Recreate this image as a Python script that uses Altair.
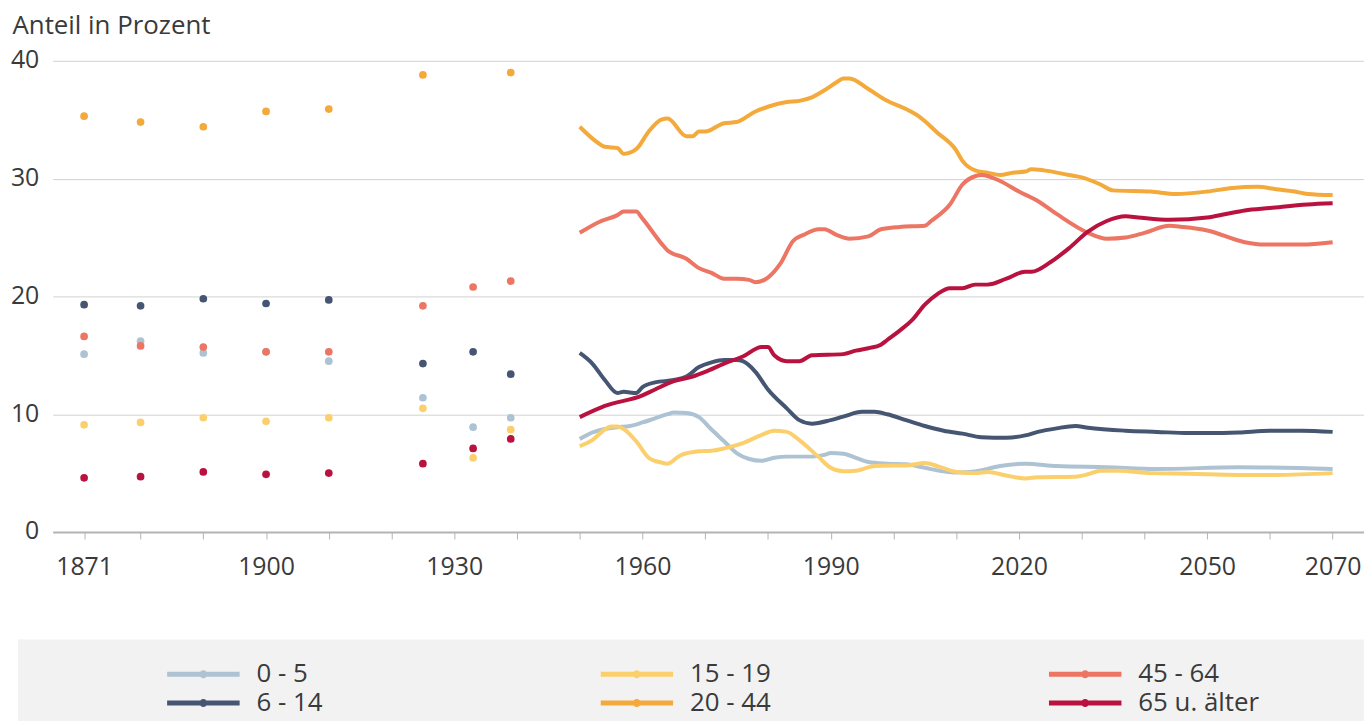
import altair as alt
import pandas as pd

# ---------------- data ----------------
groups = ["0 - 5", "6 - 14", "15 - 19", "20 - 44", "45 - 64", "65 u. älter"]
colors = ["#adc3d3", "#465672", "#fbd06c", "#f4a93b", "#ec7563", "#b9123f"]

# census points (historical)
census_years = [1871, 1880, 1890, 1900, 1910, 1925, 1933, 1939]
census_0_5 = [15.1, 16.2, 15.2, 15.3, 14.5, 11.4, 8.9, 9.7]
census_6_14 = [19.3, 19.2, 19.8, 19.4, 19.7, 14.3, 15.3, 13.4]
census_15_19 = [9.1, 9.3, 9.7, 9.4, 9.7, 10.5, 6.3, 8.7]
census_20_44 = [35.3, 34.8, 34.4, 35.7, 35.9, 38.8, None, 39.0]
census_45_64 = [16.6, 15.8, 15.7, 15.3, 15.3, 19.2, 20.8, 21.3]
census_65 = [4.6, 4.7, 5.1, 4.9, 5.0, 5.8, 7.1, 7.9]

# annual series 1950-2070
yrs_0_5 = [1950, 1952, 1954, 1956, 1958, 1960, 1962, 1964, 1965, 1967, 1969, 1971, 1973,
           1975, 1977, 1979, 1981, 1983, 1987, 1989, 1990, 1992, 1994, 1996, 1999, 2002,
           2005, 2008, 2010, 2013, 2017, 2021, 2026, 2034, 2042, 2055, 2070]
val_0_5 = [7.9, 8.45, 8.75, 8.9, 9.0, 9.3, 9.65, 10.0, 10.15, 10.1, 9.75, 8.7, 7.7,
           6.7, 6.2, 6.05, 6.3, 6.4, 6.4, 6.55, 6.7, 6.65, 6.3, 5.95, 5.8, 5.75,
           5.45, 5.15, 5.05, 5.15, 5.6, 5.8, 5.6, 5.5, 5.35, 5.5, 5.35]

yrs_6_14 = [1950, 1952, 1954, 1956, 1957, 1959, 1960, 1962, 1965, 1967, 1969, 1971, 1973,
            1975, 1976, 1978, 1980, 1983, 1985, 1987, 1990, 1992, 1995, 1997, 1999, 2002,
            2005, 2008, 2011, 2014, 2018, 2021, 2023, 2026, 2029, 2031, 2037, 2042, 2047,
            2050, 2055, 2060, 2065, 2070]
val_6_14 = [15.2, 14.3, 12.9, 11.8, 11.9, 11.8, 12.3, 12.7, 12.9, 13.2, 14.0, 14.4, 14.6,
            14.6, 14.5, 13.6, 12.1, 10.5, 9.5, 9.2, 9.5, 9.8, 10.2, 10.2, 10.0, 9.5,
            9.0, 8.6, 8.35, 8.05, 8.0, 8.2, 8.5, 8.8, 9.0, 8.85, 8.6, 8.5, 8.4,
            8.4, 8.45, 8.6, 8.6, 8.5]

yrs_15_19 = [1950, 1952, 1954, 1955, 1956, 1957, 1959, 1961, 1963, 1964, 1966, 1969, 1971,
             1973, 1976, 1979, 1981, 1983, 1985, 1988, 1990, 1992, 1994, 1997, 2000, 2002,
             2005, 2007, 2010, 2013, 2015, 2018, 2021, 2023, 2029, 2031, 2033, 2036, 2041,
             2047, 2055, 2061, 2070]
val_15_19 = [7.3, 7.8, 8.7, 8.95, 8.95, 8.75, 7.7, 6.3, 5.9, 5.8, 6.5, 6.85, 6.9,
             7.1, 7.55, 8.25, 8.6, 8.5, 7.8, 6.4, 5.45, 5.15, 5.2, 5.6, 5.65, 5.65,
             5.85, 5.6, 5.1, 5.0, 5.1, 4.8, 4.55, 4.65, 4.7, 4.9, 5.2, 5.2, 5.0,
             4.95, 4.85, 4.85, 5.0]

yrs_20_44 = [1950, 1953, 1954, 1956, 1957, 1959, 1961, 1963, 1964, 1967, 1968, 1969, 1970,
             1973, 1975, 1978, 1980, 1983, 1985, 1987, 1989, 1991, 1992, 1993, 1996, 1999,
             2002, 2004, 2007, 2010, 2011, 2013, 2015, 2017, 2019, 2021, 2022, 2024, 2028,
             2030, 2033, 2035, 2041, 2045, 2050, 2054, 2058, 2061, 2064, 2066, 2070]
val_20_44 = [34.4, 33.0, 32.7, 32.6, 32.1, 32.5, 34.0, 35.0, 35.1, 33.6, 33.6, 34.0, 34.0,
             34.7, 34.8, 35.7, 36.1, 36.5, 36.6, 36.9, 37.5, 38.2, 38.5, 38.5, 37.6, 36.6,
             35.9, 35.3, 33.9, 32.4, 31.5, 30.7, 30.5, 30.3, 30.5, 30.6, 30.8, 30.7, 30.3,
             30.1, 29.5, 29.0, 28.9, 28.7, 28.9, 29.2, 29.3, 29.1, 28.9, 28.7, 28.6]

yrs_45_64 = [1950, 1953, 1956, 1957, 1959, 1960, 1963, 1964, 1967, 1969, 1971, 1973, 1975,
             1977, 1978, 1980, 1982, 1984, 1986, 1988, 1989, 1991, 1993, 1996, 1998, 2001,
             2005, 2006, 2009, 2011, 2013, 2014, 2017, 2020, 2023, 2026, 2031, 2034, 2037,
             2040, 2044, 2046, 2050, 2056, 2059, 2065, 2070]
val_45_64 = [25.4, 26.3, 26.9, 27.2, 27.2, 26.6, 24.5, 23.9, 23.2, 22.4, 22.0, 21.5, 21.5,
             21.4, 21.2, 21.6, 22.8, 24.7, 25.3, 25.7, 25.7, 25.2, 24.9, 25.1, 25.7, 25.9,
             26.0, 26.4, 27.8, 29.5, 30.2, 30.3, 29.8, 28.9, 28.1, 27.0, 25.4, 24.9, 25.0,
             25.4, 26.0, 25.9, 25.6, 24.6, 24.4, 24.4, 24.6]

yrs_65 = [1950, 1954, 1960, 1962, 1965, 1968, 1970, 1973, 1976, 1979, 1980, 1981, 1983,
          1985, 1987, 1992, 1994, 1996, 1998, 1999, 2001, 2003, 2005, 2007, 2009, 2011,
          2013, 2015, 2018, 2021, 2022, 2025, 2028, 2031, 2034, 2037, 2039, 2044, 2050,
          2053, 2056, 2060, 2066, 2070]
val_65 = [9.75, 10.7, 11.6, 12.1, 12.8, 13.2, 13.6, 14.3, 14.9, 15.7, 15.7, 15.0, 14.5,
          14.5, 15.0, 15.1, 15.4, 15.6, 15.9, 16.3, 17.1, 18.0, 19.3, 20.2, 20.7, 20.7,
          21.0, 21.0, 21.5, 22.1, 22.1, 22.9, 24.1, 25.5, 26.4, 26.8, 26.7, 26.5, 26.7,
          27.0, 27.3, 27.5, 27.8, 27.9]

tick_values = [1871] + list(range(1880, 2071, 10))
label_years = [1871, 1900, 1930, 1960, 1990, 2020, 2050, 2070]

# ---------------- tables ----------------
census = [census_0_5, census_6_14, census_15_19, census_20_44, census_45_64, census_65]
rows = []
for g, vals in zip(groups, census):
    for yv, v in zip(census_years, vals):
        if v is not None:
            rows.append({"year": yv, "value": v, "group": g})
points_df = pd.DataFrame(rows)

series = [(yrs_0_5, val_0_5), (yrs_6_14, val_6_14), (yrs_15_19, val_15_19),
          (yrs_20_44, val_20_44), (yrs_45_64, val_45_64), (yrs_65, val_65)]
rows = []
for g, (ys, vs) in zip(groups, series):
    for yv, v in zip(ys, vs):
        rows.append({"year": yv, "value": v, "group": g})
lines_df = pd.DataFrame(rows)

FONT = "Open Sans"
TXT = "#3a3a3a"

label_list = ",".join(str(v) for v in label_years)
x_enc = alt.X(
    "year:Q",
    scale=alt.Scale(domain=[1866, 2075], nice=False, zero=False),
    axis=alt.Axis(
        values=tick_values, format="d",
        labelExpr=f"indexof([{label_list}], datum.value) >= 0 ? datum.label : ''",
        grid=False, domainColor="#b3b3b3", domainWidth=2,
        tickColor="#b3b3b3", tickSize=7, tickWidth=1,
        labelFont=FONT, labelFontSize=25, labelColor=TXT, labelPadding=16,
        labelFlush=False, labelOverlap=False, title=None, zindex=1,
    ),
)
y_enc = alt.Y(
    "value:Q",
    scale=alt.Scale(domain=[0, 40], nice=False),
    axis=alt.Axis(
        values=[0, 10, 20, 30, 40], grid=True, gridColor="#d2d2d2", gridWidth=1,
        domain=False, ticks=False, labelPadding=14, labelOffset=-1,
        labelFont=FONT, labelFontSize=25, labelColor=TXT,
        title="Anteil in Prozent", titleAngle=0, titleX=-41, titleY=-27,
        titleAlign="left", titleBaseline="alphabetic", titleFont=FONT,
        titleFontSize=26, titleFontWeight="normal", titleColor=TXT,
    ),
)

SYM = ("M-1,-0.068L1,-0.068L1,0.068L-1,0.068Z "
       "M-0.11,0A0.11,0.11 0 1,1 0.11,0A0.11,0.11 0 1,1 -0.11,0Z")

color_scale = alt.Scale(domain=groups, range=colors)
legend = alt.Legend(
    orient="none", legendX=115, legendY=602.5, columns=3,
    columnPadding=279, rowPadding=0, clipHeight=29,
    symbolType=SYM, symbolSize=5329, symbolStrokeWidth=0, symbolOpacity=1,
    labelFont=FONT, labelFontSize=26, labelColor=TXT, labelOffset=17,
    labelLimit=300, title=None, padding=0,
)

bg = alt.Chart(pd.DataFrame({"a": [0]})).mark_rect(color="#f2f2f2").encode(
    x=alt.value(-35), x2=alt.value(1319), y=alt.value(582), y2=alt.value(664)
)

points = alt.Chart(points_df).mark_circle(size=60, opacity=1).encode(
    x=x_enc, y=y_enc,
    color=alt.Color("group:N", scale=color_scale, legend=legend),
)

lines = alt.Chart(lines_df).mark_line(strokeWidth=4, interpolate="monotone").encode(
    x=x_enc, y=y_enc,
    color=alt.Color("group:N", scale=color_scale, legend=legend),
)

chart = alt.layer(bg, points, lines).properties(
    width=1319, height=474,
    padding={"left": 45, "top": 51, "right": 0, "bottom": 192},
    autosize=alt.AutoSizeParams(type="none"),
).configure_view(stroke=None)

chart.save("out.html", embed_options={"renderer": "svg", "actions": False})
